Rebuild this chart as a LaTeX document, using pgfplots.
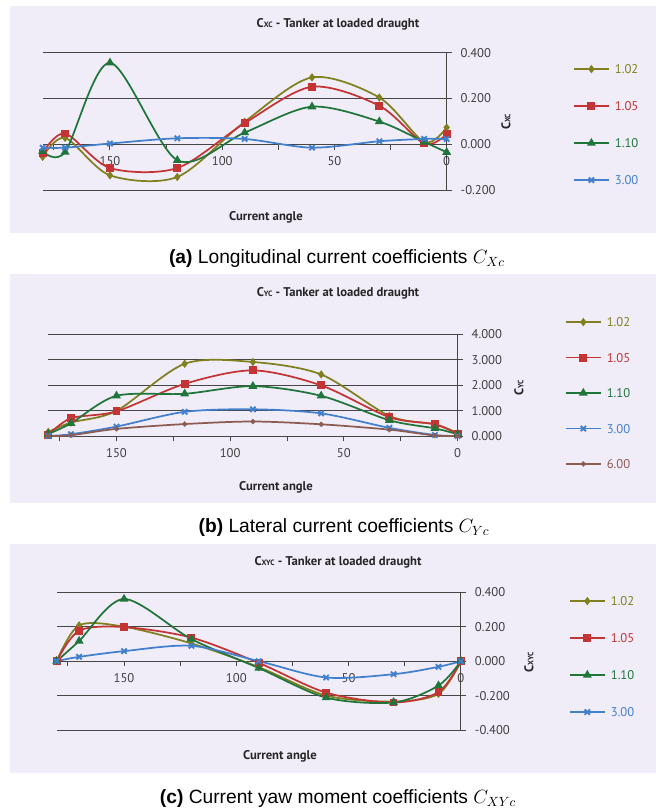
\documentclass[border=0pt]{standalone}
\usepackage{fontspec}
\setmainfont{Liberation Sans}
\newfontfamily\chartfont{PT Sans}
\usepackage{pgfplots}
\pgfplotsset{compat=1.18}

\definecolor{bgc}{RGB}{240,236,248}
\definecolor{gridc}{RGB}{70,70,70}
\definecolor{tickc}{RGB}{64,64,64}
\definecolor{titlec}{RGB}{38,38,38}
\definecolor{olivec}{RGB}{128,128,30}
\definecolor{redc}{RGB}{196,52,52}
\definecolor{greenc}{RGB}{32,118,58}
\definecolor{bluec}{RGB}{66,128,206}
\definecolor{brownc}{RGB}{140,92,82}

\pgfplotsset{
  coefplot/.style={
    scale only axis, clip=false,
    x dir=reverse, xmin=0, xmax=180,
    axis x line=middle, axis y line=right,
    hide obscured x ticks=false,
    x axis line style={-, draw=gridc, line width=0.75pt},
    y axis line style={-, draw=gridc, line width=0.75pt},
    xtick={0,25,...,175}, xticklabels={0,,50,,100,,150,},
    ymajorgrids, grid style={draw=gridc, line width=0.75pt},
    tick style={draw=gridc, line width=0.75pt},
    tick align=outside, major tick length=4pt,
    ticklabel style={font=\chartfont\fontsize{9.5}{10}\selectfont, text=tickc},
    /pgf/number format/assume math mode=true,
    yticklabel style={xshift=3pt, /pgf/number format/fixed,
      /pgf/number format/fixed zerofill, /pgf/number format/precision=3},
    xticklabel style={yshift=-2pt},
    legend style={anchor=north west, draw=none, fill=none, inner sep=0pt,
      font=\chartfont\fontsize{9.5}{10}\selectfont, row sep=18.75pt,
      nodes={inner sep=0pt, text height=7pt, text depth=2pt}},
    legend cell align=left,
    /tikz/every odd column/.append style={column sep=4pt},
    legend image code/.code={\draw[mark repeat=2,mark phase=2,line width=1.3pt,##1]
      plot coordinates {(0pt,1pt) (13pt,1pt) (26pt,1pt)};},
  },
  every axis plot/.append style={line width=1.3pt, smooth},
  s102/.style={olivec, mark=diamond*, mark size=2.1pt},
  s105/.style={redc, mark=square*, mark size=2.3pt},
  s110/.style={greenc, mark=triangle*, mark size=2.6pt},
  s300/.style={bluec, mark=x, mark size=2.8pt, mark options={line width=1.4pt}},
  s600/.style={brownc, mark=*, mark size=1.2pt},
}

\begin{document}
\begin{tikzpicture}
\path[use as bounding box] (0,0) rectangle (492.75pt,-607.5pt);
\begin{scope}[x=0.75pt,y=-0.75pt]
\fill[bgc] (10,6) rectangle (656,233);
\fill[bgc] (10,274) rectangle (656,503);
\fill[bgc] (10,544) rectangle (656,773);
\end{scope}

% (a) longitudinal
\begin{axis}[coefplot, at={(32.0pt,-142.5pt)}, anchor=south west,
  width=303pt, height=103pt, ymin=-0.2, ymax=0.4, ytick={-0.2,0,0.2,0.4},
  legend style={at={(1.3126,0.916)}}]
\addplot[s102] coordinates {(180,-0.055) (170,0.028) (150,-0.136) (120,-0.143) (90,0.098) (60,0.292) (30,0.204) (10,0.010) (0,0.073)};
\addlegendentry{\textcolor{olivec}{1.02}}
\addplot[s105] coordinates {(180,-0.038) (170,0.047) (150,-0.104) (120,-0.104) (90,0.092) (60,0.251) (30,0.168) (10,0.003) (0,0.044)};
\addlegendentry{\textcolor{redc}{1.05}}
\addplot[s110] coordinates {(180,-0.031) (170,-0.034) (150,0.356) (120,-0.070) (90,0.051) (60,0.164) (30,0.099) (10,0.010) (0,-0.035)};
\addlegendentry{\textcolor{greenc}{1.10}}
\addplot[s300] coordinates {(180,-0.015) (170,-0.015) (150,0.003) (120,0.026) (90,0.023) (60,-0.015) (30,0.013) (10,0.023) (0,0.023)};
\addlegendentry{\textcolor{bluec}{3.00}}
\end{axis}

% (b) lateral
\begin{axis}[coefplot, at={(36.2pt,-327pt)}, anchor=south west,
  width=307pt, height=76.3pt, ymin=0, ymax=4, ytick={0,1,2,3,4},
  legend style={at={(1.262,1.168)}, row sep=17.6pt}]
\addplot[s102] coordinates {(180,0.16) (170,0.53) (150,0.99) (120,2.84) (90,2.91) (60,2.42) (30,0.79) (10,0.46) (0,0.12)};
\addlegendentry{\textcolor{olivec}{1.02}}
\addplot[s105] coordinates {(180,0.04) (170,0.70) (150,0.97) (120,2.05) (90,2.58) (60,1.99) (30,0.74) (10,0.46) (0,0.07)};
\addlegendentry{\textcolor{redc}{1.05}}
\addplot[s110] coordinates {(180,0.08) (170,0.50) (150,1.58) (120,1.66) (90,1.96) (60,1.58) (30,0.62) (10,0.30) (0,0.07)};
\addlegendentry{\textcolor{greenc}{1.10}}
\addplot[s300] coordinates {(180,0) (170,0.07) (150,0.37) (120,0.95) (90,1.05) (60,0.89) (30,0.32) (10,0.04) (0,0)};
\addlegendentry{\textcolor{bluec}{3.00}}
\addplot[s600] coordinates {(180,0) (170,0.03) (150,0.28) (120,0.47) (90,0.57) (60,0.46) (30,0.25) (10,0.02) (0,0)};
\addlegendentry{\textcolor{brownc}{6.00}}
\end{axis}

% (c) yaw moment
\begin{axis}[coefplot, at={(42.5pt,-547.5pt)}, anchor=south west,
  width=303.2pt, height=103.3pt, ymin=-0.4, ymax=0.4, ytick={-0.4,-0.2,0,0.2,0.4},
  legend style={at={(1.267,0.972)}}]
\addplot[s102] coordinates {(180,0) (170,0.208) (150,0.200) (120,0.103) (90,-0.035) (60,-0.200) (30,-0.235) (10,-0.190) (0,0)};
\addlegendentry{\textcolor{olivec}{1.02}}
\addplot[s105] coordinates {(180,0) (170,0.177) (150,0.198) (120,0.137) (90,-0.010) (60,-0.183) (30,-0.240) (10,-0.180) (0,0)};
\addlegendentry{\textcolor{redc}{1.05}}
\addplot[s110] coordinates {(180,0) (170,0.117) (150,0.361) (120,0.128) (90,-0.040) (60,-0.212) (30,-0.240) (10,-0.142) (0,0)};
\addlegendentry{\textcolor{greenc}{1.10}}
\addplot[s300] coordinates {(180,0) (170,0.025) (150,0.058) (120,0.089) (90,0) (60,-0.095) (30,-0.076) (10,-0.033) (0,0)};
\addlegendentry{\textcolor{bluec}{3.00}}
\end{axis}

\begin{scope}[x=0.75pt,y=-0.75pt,
  ttl/.style={font=\chartfont\bfseries\fontsize{9.5}{10}\selectfont, text=titlec},
  capt/.style={font=\fontsize{14.4}{16}\selectfont}]
\node[ttl] at (338,24) {C{\fontsize{5.8}{6}\selectfont XC} - Tanker at loaded draught};
\node[ttl] at (266,217) {Current angle};
\node[ttl, rotate=90] at (506,122) {C{\fontsize{5.8}{6}\selectfont XC}};
\node[capt] at (337,259) {\textbf{(a)} Longitudinal current coefficients $C_{Xc}$};

\node[ttl] at (338,293) {C{\fontsize{5.8}{6}\selectfont YC} - Tanker at loaded draught};
\node[ttl] at (276,487) {Current angle};
\node[ttl, rotate=90] at (519,388) {C{\fontsize{5.8}{6}\selectfont YC}};
\node[capt] at (344,528) {\textbf{(b)} Lateral current coefficients $C_{Yc}$};

\node[ttl] at (338,562) {C{\fontsize{5.8}{6}\selectfont XYC} - Tanker at loaded draught};
\node[ttl] at (280,756) {Current angle};
\node[ttl, rotate=90] at (529,662) {C{\fontsize{5.8}{6}\selectfont XYC}};
\node[capt] at (338,799) {\textbf{(c)} Current yaw moment coefficients $C_{XYc}$};
\end{scope}
\end{tikzpicture}
\end{document}
